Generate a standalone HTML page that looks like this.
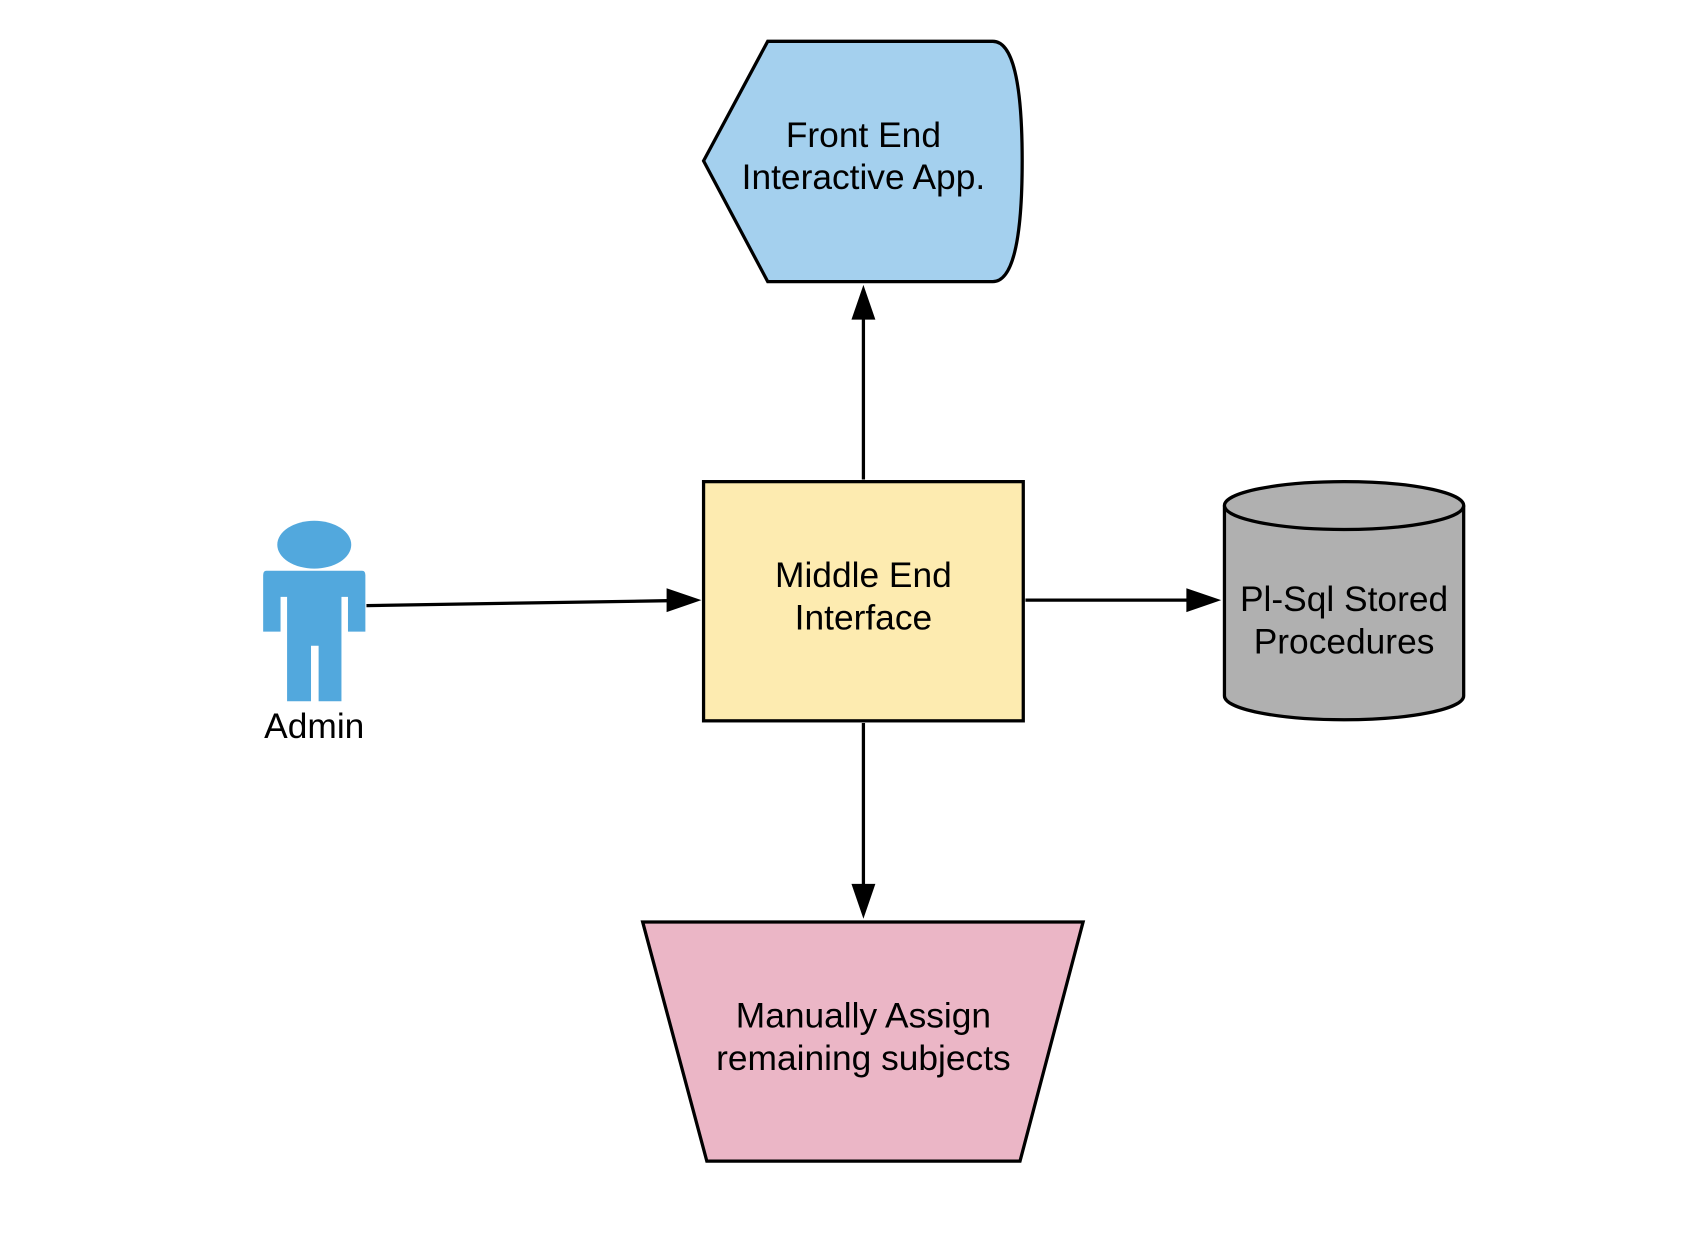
<!DOCTYPE html>
<html><head><meta charset="utf-8"><style>html,body{margin:0;padding:0;background:#fff}svg{display:block}</style></head>
<body>
<svg width="1704" height="1234" viewBox="0 0 1567 1135" preserveAspectRatio="none" xmlns="http://www.w3.org/2000/svg">
<g stroke="#000" stroke-width="3" font-family="Liberation Sans, sans-serif" font-size="30" text-anchor="middle">
<path d="M706 38 H913 Q940 38 940 148 Q940 259 913 259 H706 L647 148 Z" fill="#a4d0ee"/>
<rect x="647" y="443" width="294" height="220" fill="#fdebb0"/>
<path d="M1126 465 V640 A110 22 0 0 0 1346 640 V465" fill="#b0b0b0"/>
<ellipse cx="1236" cy="465" rx="110" ry="22" fill="#b0b0b0"/>
<path d="M591 848 H996 L938 1068 H650 Z" fill="#ebb6c6"/>
<line x1="794" y1="441" x2="794" y2="290" />
<line x1="337" y1="557" x2="614" y2="552.5" />
<line x1="943" y1="552" x2="1092" y2="552" />
<line x1="794" y1="665" x2="794" y2="814" />
</g>
<g fill="#000">
<path d="M794 262 L805 294 L783 294 Z"/>
<path d="M645 552 L613 563 L613 541 Z"/>
<path d="M1123 552 L1091 563 L1091 541 Z"/>
<path d="M794 845 L783 813 L805 813 Z"/>
</g>
<g fill="#52a8dd">
<ellipse cx="289" cy="501" rx="34" ry="22"/>
<path d="M245 525 H333 Q336 525 336 529 V581 H320 V549 H314 V645 H293 V594 H286 V645 H264 V549 H258 V581 H242 V529 Q242 525 245 525 Z"/>
</g>
<g font-family="Liberation Sans, sans-serif" font-size="32.5" text-anchor="middle" fill="#000">
<text x="794" y="135">Front End</text>
<text x="794" y="174">Interactive App.</text>
<text x="794" y="540">Middle End</text>
<text x="794" y="579">Interface</text>
<text x="1236" y="562">Pl-Sql Stored</text>
<text x="1236" y="601">Procedures</text>
<text x="794" y="945">Manually Assign</text>
<text x="794" y="984">remaining subjects</text>
<text x="289" y="679">Admin</text>
</g>
</svg>
</body></html>
